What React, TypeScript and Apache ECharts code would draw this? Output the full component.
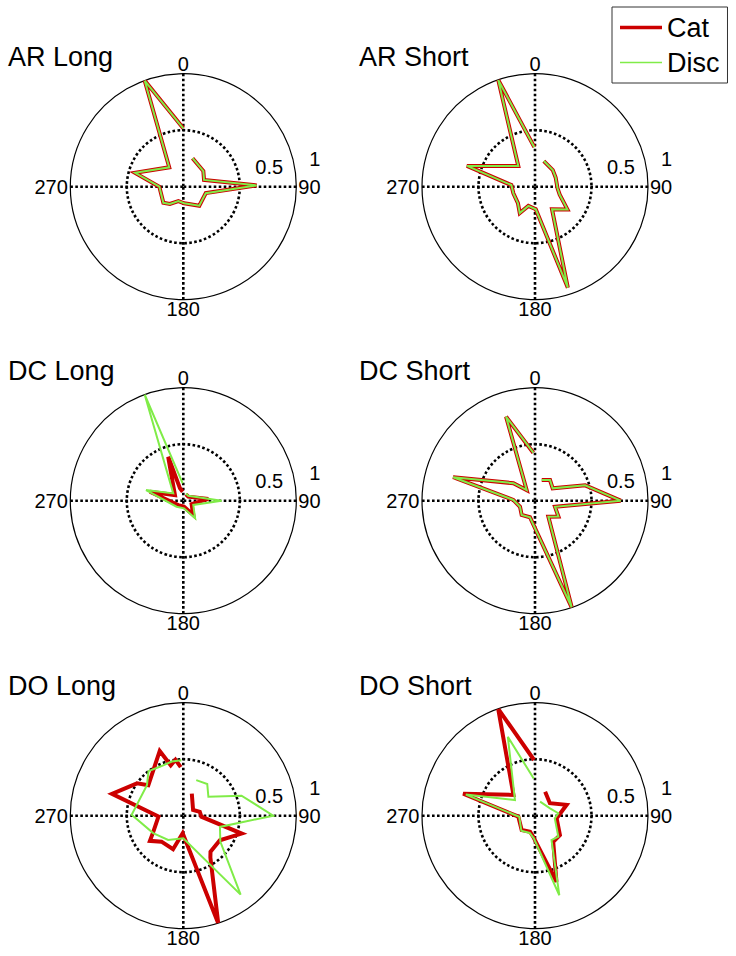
import React, { useEffect, useRef } from "react";
import * as echarts from "echarts";

// Panel titles, tick labels, series names
const panelTitles = ["AR Long", "AR Short", "DC Long", "DC Short", "DO Long", "DO Short"];
const angleTickLabels = ["0", "90", "180", "270"];
const radiusTickLabels = ["0.5", "1"];
const seriesNames = ["Cat", "Disc"];

// Each point: [angle in degrees (clockwise from top), radius]
const arLongCat = [[18, 0.265], [52, 0.225], [72, 0.193], [89, 0.65], [106, 0.207], [140, 0.22], [177, 0.147], [199, 0.134], [218, 0.193], [231, 0.227], [270, 0.212], [286, 0.444], [324, 0.212], [340, 1.0], [360, 0.517]];
const arLongDisc = [[18, 0.265], [52, 0.225], [72, 0.193], [89, 0.65], [106, 0.207], [140, 0.22], [177, 0.147], [199, 0.134], [218, 0.193], [231, 0.227], [270, 0.212], [286, 0.444], [324, 0.212], [340, 1.0], [360, 0.517]];

const arShortCat = [[19, 0.24], [47, 0.215], [66, 0.2], [94, 0.2], [108, 0.23], [125, 0.35], [143, 0.25], [162, 0.94], [178, 0.2], [199, 0.18], [210, 0.27], [226, 0.21], [253, 0.2], [274, 0.21], [287, 0.63], [321, 0.235], [341, 1.0], [359, 0.35]];
const arShortDisc = [[19, 0.24], [47, 0.215], [66, 0.2], [94, 0.2], [108, 0.23], [125, 0.35], [143, 0.25], [162, 0.94], [178, 0.2], [199, 0.18], [210, 0.27], [226, 0.21], [253, 0.2], [274, 0.21], [287, 0.63], [321, 0.235], [341, 1.0], [359, 0.35]];

const dcLongCat = [[23, 0.061], [51, 0.057], [86, 0.222], [112, 0.079], [145, 0.155], [174, 0.053], [229, 0.059], [285, 0.306], [304, 0.089], [341, 0.411], [345, 0.113], [356, 0.08]];
const dcLongDisc = [[20, 0.068], [45, 0.062], [90, 0.339], [113, 0.096], [146, 0.187], [175, 0.068], [228, 0.08], [286, 0.343], [306, 0.11], [340, 1.0], [358, 0.154]];

const dcShortCat = [[18, 0.193], [36, 0.226], [55, 0.191], [73, 0.464], [90, 0.758], [107, 0.185], [124, 0.25], [140, 0.184], [161, 1.0], [197, 0.153], [223, 0.173], [248, 0.143], [272, 0.192], [286, 0.754], [309, 0.246], [322, 0.12], [341, 0.787], [358, 0.425]];
const dcShortDisc = [[18, 0.193], [36, 0.226], [55, 0.191], [73, 0.464], [90, 0.758], [107, 0.185], [124, 0.25], [140, 0.184], [161, 1.0], [197, 0.153], [223, 0.173], [248, 0.143], [272, 0.192], [286, 0.754], [309, 0.246], [322, 0.12], [341, 0.787], [358, 0.425]];

const doLongCat = [[21, 0.21], [60, 0.1], [77, 0.15], [93, 0.16], [107, 0.54], [124, 0.39], [143, 0.4], [147, 0.44], [162, 1.0], [182, 0.156], [197, 0.31], [220, 0.3], [233, 0.37], [242, 0.3], [268, 0.22], [287, 0.66], [305, 0.5], [311, 0.41], [340, 0.61], [346, 0.46], [352, 0.5], [357, 0.43]];
const doLongDisc = [[20, 0.335], [37, 0.352], [53, 0.278], [71, 0.545], [90, 0.796], [107, 0.339], [125, 0.4], [144, 0.863], [180, 0.2], [212, 0.253], [240, 0.308], [271, 0.457], [310, 0.42], [322, 0.5], [335, 0.48], [348, 0.49], [358, 0.49]];

const doShortCat = [[23, 0.23], [50, 0.172], [71, 0.296], [97, 0.193], [128, 0.28], [145, 0.281], [162, 0.615], [185, 0.186], [197, 0.148], [223, 0.173], [267, 0.148], [287, 0.665], [314, 0.265], [341, 1.0], [359, 0.493]];
const doShortDisc = [[20, 0.132], [64, 0.148], [84, 0.207], [98, 0.177], [132, 0.278], [146, 0.261], [163, 0.736], [183, 0.2], [197, 0.16], [222, 0.18], [266, 0.14], [287, 0.64], [308, 0.225], [341, 0.738], [358, 0.33]];

const panelData = [
  [arLongCat, arLongDisc],
  [arShortCat, arShortDisc],
  [dcLongCat, dcLongDisc],
  [dcShortCat, dcShortDisc],
  [doLongCat, doLongDisc],
  [doShortCat, doShortDisc],
];

const W = 736;
const H = 956;
const centers = [[183.3, 186.7], [535, 186.7], [183.3, 500.7], [535, 500.7], [183.3, 815.7], [535, 815.7]];
const R = 113;
const FONT = "'Liberation Sans', Arial, Helvetica, sans-serif";
const RED = "#cc0000";
const GREEN = "#80ec48";

function txt(text: string, x: number, y: number, size: number, align: string, valign = "middle") {
  return {
    type: "text",
    x,
    y,
    silent: true,
    z: 10,
    style: {
      text,
      fill: "#000",
      fontSize: size,
      fontFamily: FONT,
      align,
      verticalAlign: valign,
      textAlign: align,
      textVerticalAlign: valign,
    },
  };
}

export default function App() {
  const ref = useRef<HTMLDivElement>(null);

  useEffect(() => {
    if (!ref.current) return;
    const chart = echarts.init(ref.current, undefined, { renderer: "svg" });

    const polar: any[] = [];
    const angleAxis: any[] = [];
    const radiusAxis: any[] = [];
    const series: any[] = [];
    const graphic: any[] = [];
    const dotted = { color: "#000", width: 2.6, type: [2.6, 2.4], cap: "butt" };

    centers.forEach(([cx, cy], i) => {
      polar.push({ center: [cx, cy], radius: R });
      angleAxis.push({
        polarIndex: i,
        type: "value",
        min: 0,
        max: 360,
        interval: 90,
        startAngle: 90,
        clockwise: true,
        axisLine: { show: true, lineStyle: { color: "#000", width: 1.2 } },
        axisTick: { show: false },
        axisLabel: { show: false },
        splitLine: { show: true, lineStyle: dotted },
        z: 2,
      });
      radiusAxis.push({
        polarIndex: i,
        type: "value",
        min: 0,
        max: 1,
        interval: 0.5,
        axisLine: { show: false },
        axisTick: { show: false },
        axisLabel: { show: false },
        // only the 0.5 ring is dotted; the outer ring is the solid angle-axis line
        splitLine: { show: true, lineStyle: { ...dotted, color: ["rgba(0,0,0,0)", "#000", "rgba(0,0,0,0)"] } },
        z: 1,
      });
      const [cat, disc] = panelData[i];
      [cat, disc].forEach((d, k) => {
        series.push({
          name: seriesNames[k],
          type: "line",
          coordinateSystem: "polar",
          polarIndex: i,
          symbol: "none",
          showSymbol: false,
          silent: true,
          z: 3 + k,
          data: d.map(([a, r]) => [r, a]),
          lineStyle: { color: k === 0 ? RED : GREEN, width: k === 0 ? 4 : 2, join: "miter" },
          itemStyle: { color: k === 0 ? RED : GREEN },
        });
      });

      // panel title
      graphic.push(txt(panelTitles[i], cx < 300 ? 8 : 359, cy - 130, 27, "left"));
      // angle labels
      graphic.push(txt(angleTickLabels[0], cx, cy - 123, 20, "center"));
      graphic.push(txt(angleTickLabels[1], cx + 115, cy + 0.5, 20, "left"));
      graphic.push(txt(angleTickLabels[2], cx, cy + 122.5, 20, "center"));
      graphic.push(txt(angleTickLabels[3], cx - 115.5, cy + 0.5, 20, "right"));
      // radius labels
      graphic.push(txt(radiusTickLabels[0], cx + 72, cy - 20, 20, "left"));
      graphic.push(txt(radiusTickLabels[1], cx + 126, cy - 28, 20, "left"));
    });

    chart.setOption({
      animation: false,
      backgroundColor: "#fff",
      textStyle: { fontFamily: FONT },
      legend: {
        data: [
          { name: seriesNames[0], icon: "path://M0,0H42V3.5H0Z", itemStyle: { color: RED } },
          { name: seriesNames[1], icon: "path://M0,0H42V1.5H0Z", itemStyle: { color: GREEN } },
        ],
        symbolKeepAspect: true,
        orient: "vertical",
        left: 612,
        top: 7,
        padding: [7, 8, 7, 8],
        itemGap: 8,
        itemWidth: 42,
        itemHeight: 14,
        borderColor: "#333",
        borderWidth: 1,
        backgroundColor: "#fff",
        selectedMode: false,
        textStyle: { fontSize: 27, color: "#000", fontFamily: FONT },
      },
      polar,
      angleAxis,
      radiusAxis,
      series,
      graphic,
    });

    return () => chart.dispose();
  }, []);

  return (
    <div
      ref={ref}
      style={{ position: "absolute", left: 0, top: 0, width: W, height: H, background: "#fff" }}
    />
  );
}
